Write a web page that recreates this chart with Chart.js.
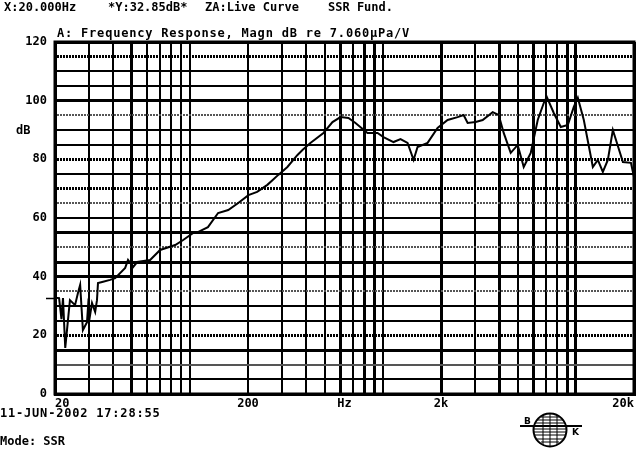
<!DOCTYPE html>
<html>
<head>
<meta charset="utf-8">
<script src="https://cdn.jsdelivr.net/npm/chart.js@4/dist/chart.umd.min.js"></script>
<style>
  html, body { margin: 0; padding: 0; background: #fff; }
  #wrap { position: relative; width: 640px; height: 450px; overflow: hidden; background: #fff; }
  #c { position: absolute; left: 0; top: 0; }
  .t { position: absolute; font: bold 12px "DejaVu Sans Mono", monospace; color: #000; white-space: pre; line-height: 12px; }
  #logo { position: absolute; left: 516px; top: 411px; }
</style>
</head>
<body>
<div id="wrap">
  <canvas id="c" width="640" height="450"></canvas>
  <div class="t" style="left:4px;top:1px">X:20.000Hz</div>
  <div class="t" style="left:108px;top:1px">*Y:32.85dB*</div>
  <div class="t" style="left:205px;top:1px">ZA:Live Curve</div>
  <div class="t" style="left:328px;top:1px">SSR Fund.</div>
  <div class="t" style="left:57px;top:27px;letter-spacing:0.8px">A: Frequency Response, Magn dB re 7.060µPa/V</div>
  <div class="t" style="left:16px;top:124px">dB</div>
  <div class="t" style="left:0px;top:407px;letter-spacing:0.8px">11-JUN-2002 17:28:55</div>
  <div class="t" style="left:0px;top:435px">Mode: SSR</div>
  <svg id="logo" width="70" height="40" viewBox="0 0 70 40">
    <circle cx="34" cy="19" r="16.5" fill="none" stroke="#000" stroke-width="2"/>
    <g stroke="#000" stroke-width="1">
      <line x1="25" y1="6" x2="43" y2="6"/>
      <line x1="21" y1="9" x2="47" y2="9"/>
      <line x1="19" y1="12" x2="49" y2="12"/>
      <line x1="18" y1="18" x2="50" y2="18"/>
      <line x1="18" y1="21" x2="50" y2="21"/>
      <line x1="19" y1="24" x2="49" y2="24"/>
      <line x1="21" y1="28" x2="47" y2="28"/>
      <line x1="25" y1="31" x2="43" y2="31"/>
      <line x1="34" y1="3" x2="34" y2="35"/>
      <line x1="27" y1="4" x2="27" y2="34"/>
      <line x1="41" y1="4" x2="41" y2="34"/>
    </g>
    <line x1="4" y1="15" x2="66" y2="15" stroke="#000" stroke-width="2"/>
    <text x="8" y="13" font-family="DejaVu Sans" font-size="9" font-weight="bold">B</text>
    <text x="56" y="24" font-family="DejaVu Sans" font-size="9" font-weight="bold">K</text>
  </svg>
</div>
<script>
// 频响曲线：频率 (Hz) 与幅值 (dB)
var freqHz = [20, 21.0, 21.6, 22.0, 22.6, 23.9, 25.4, 26.3, 27.0, 27.9, 29.3, 29.7, 30.4, 31.1, 32.3, 33.0,
  33.4, 35.1, 38.6, 41.0, 46.2, 47.8, 50.8, 53.3, 62.2, 70.1, 83.9, 92.3, 104, 110, 124, 140, 158, 178,
  201, 223, 252, 287, 320, 361, 383, 421, 492, 548, 603, 663, 721, 832, 938, 1007, 1135, 1234, 1342,
  1442, 1512, 1704, 1920, 2164, 2438, 2620, 2748, 3024, 3288, 3706, 3980, 4226, 4594, 4994, 5366, 5834,
  6342, 6816, 7064, 7680, 8352, 9080, 9752, 10230, 10990, 12240, 12990, 13790, 14640, 15540, 17520,
  19280, 20000];
var levelDb = [32.85, 32.7, 25.5, 32.7, 15.7, 32.0, 30.3, 34.4, 37.2, 21.8, 24.5, 30.3, 26.9, 31.0, 28.0, 32.0,
  37.8, 38.2, 38.9, 39.5, 43.0, 45.7, 43.3, 45.0, 45.7, 49.1, 50.8, 52.5, 54.9, 55.2, 56.9, 61.7, 62.7, 65.1,
  67.8, 68.9, 71.3, 74.7, 77.4, 81.5, 83.2, 85.6, 89.0, 92.7, 94.4, 94.1, 92.4, 89.0, 89.0, 87.6, 85.9, 86.9, 85.6,
  79.8, 84.2, 85.6, 90.7, 93.4, 94.4, 95.1, 92.4, 92.7, 93.4, 96.1, 95.1, 89.0, 82.2, 84.9, 77.4, 82.2,
  93.4, 99.2, 101.3, 95.8, 91.0, 91.7, 97.9, 101.0, 93.4, 77.4, 79.8, 75.7, 79.8, 90.0, 79.1,
  78.8, 74.0];

var cursorDb = 32.85;   // Y 光标读数
var xLabelValues = [20, 200, 632, 2000, 20000];
var xLabelTexts = ["20", "200", "Hz", "2k", "20k"];
var yMin = 0, yMax = 120, yStep = 5, yLabelStep = 20;

// 对数网格：每个十倍频程的 1..9
var xGridValues = [];
[10, 100, 1000, 10000].forEach(function (dec) {
  for (var k = 1; k <= 9; k++) {
    var v = dec * k;
    if (v >= 20 && v <= 20000) xGridValues.push(v);
  }
});
var xTickValues = xGridValues.concat([632]).sort(function (a, b) { return a - b; });

var xThick = [20, 50, 600, 800, 900, 2000, 4000, 6000, 9000, 10000, 20000];
var yThick = [0, 15, 20, 40, 45, 55, 70, 80, 100, 115, 120];
var yDotted = [20, 35, 50, 65, 70, 80, 95, 115];
var yGray = [10, 35, 50, 65, 95];

var FONT = { family: "'DejaVu Sans Mono', monospace", size: 12, weight: "bold" };

var frame = {
  id: "frame",
  afterDraw: function (chart) {
    var a = chart.chartArea, ctx = chart.ctx;
    ctx.save();
    ctx.strokeStyle = "#000";
    ctx.lineWidth = 3;
    ctx.strokeRect(a.left, a.top, a.right - a.left, a.bottom - a.top);
    // 光标刻度标记
    var y = Math.round(chart.scales.y.getPixelForValue(cursorDb)) + 0.5;
    ctx.lineWidth = 1.5;
    ctx.beginPath();
    ctx.moveTo(a.left - 9, y);
    ctx.lineTo(a.left - 1, y);
    ctx.stroke();
    ctx.restore();
  }
};

new Chart(document.getElementById("c"), {
  type: "line",
  data: {
    datasets: [{
      data: freqHz.map(function (f, i) { return { x: f, y: levelDb[i] }; }),
      borderColor: "#000",
      borderWidth: 2,
      pointRadius: 0,
      tension: 0,
      fill: false
    }]
  },
  options: {
    responsive: false,
    animation: false,
    layout: { padding: { top: 42, right: 6, left: 0, bottom: 0 } },
    plugins: { legend: { display: false }, tooltip: { enabled: false } },
    scales: {
      x: {
        type: "logarithmic",
        min: 20,
        max: 20000,
        afterBuildTicks: function (scale) {
          scale.ticks = xTickValues.map(function (v) { return { value: v }; });
        },
        afterFit: function (scale) { scale.height = 56; },
        ticks: {
          autoSkip: false,
          maxRotation: 0,
          align: "inner",
          padding: 3,
          color: "#000",
          font: FONT,
          callback: function (v) {
            var i = xLabelValues.indexOf(v);
            return i >= 0 ? xLabelTexts[i] : "";
          }
        },
        grid: {
          drawTicks: false,
          color: function (c) { return c.tick && c.tick.value === 632 ? "rgba(0,0,0,0)" : "#000"; },
          lineWidth: function (c) { return c.tick && xThick.indexOf(c.tick.value) >= 0 ? 3 : 2; }
        },
        border: { color: "#000", width: 3 }
      },
      y: {
        min: yMin,
        max: yMax,
        afterFit: function (scale) { scale.width = 55; },
        ticks: {
          stepSize: yStep,
          autoSkip: false,
          padding: 8,
          color: "#000",
          font: FONT,
          callback: function (v) { return v % yLabelStep === 0 ? String(v) : ""; }
        },
        grid: {
          drawTicks: false,
          color: function (c) { return c.tick && yGray.indexOf(c.tick.value) >= 0 ? "#555" : "#000"; },
          lineWidth: function (c) { return c.tick && yThick.indexOf(c.tick.value) >= 0 ? 3 : 2; }
        },
        border: {
          color: "#000",
          width: 3,
          dash: function (c) { return c.tick && yDotted.indexOf(c.tick.value) >= 0 ? [2, 1] : []; }
        }
      }
    }
  },
  plugins: [frame]
});
</script>
</body>
</html>
